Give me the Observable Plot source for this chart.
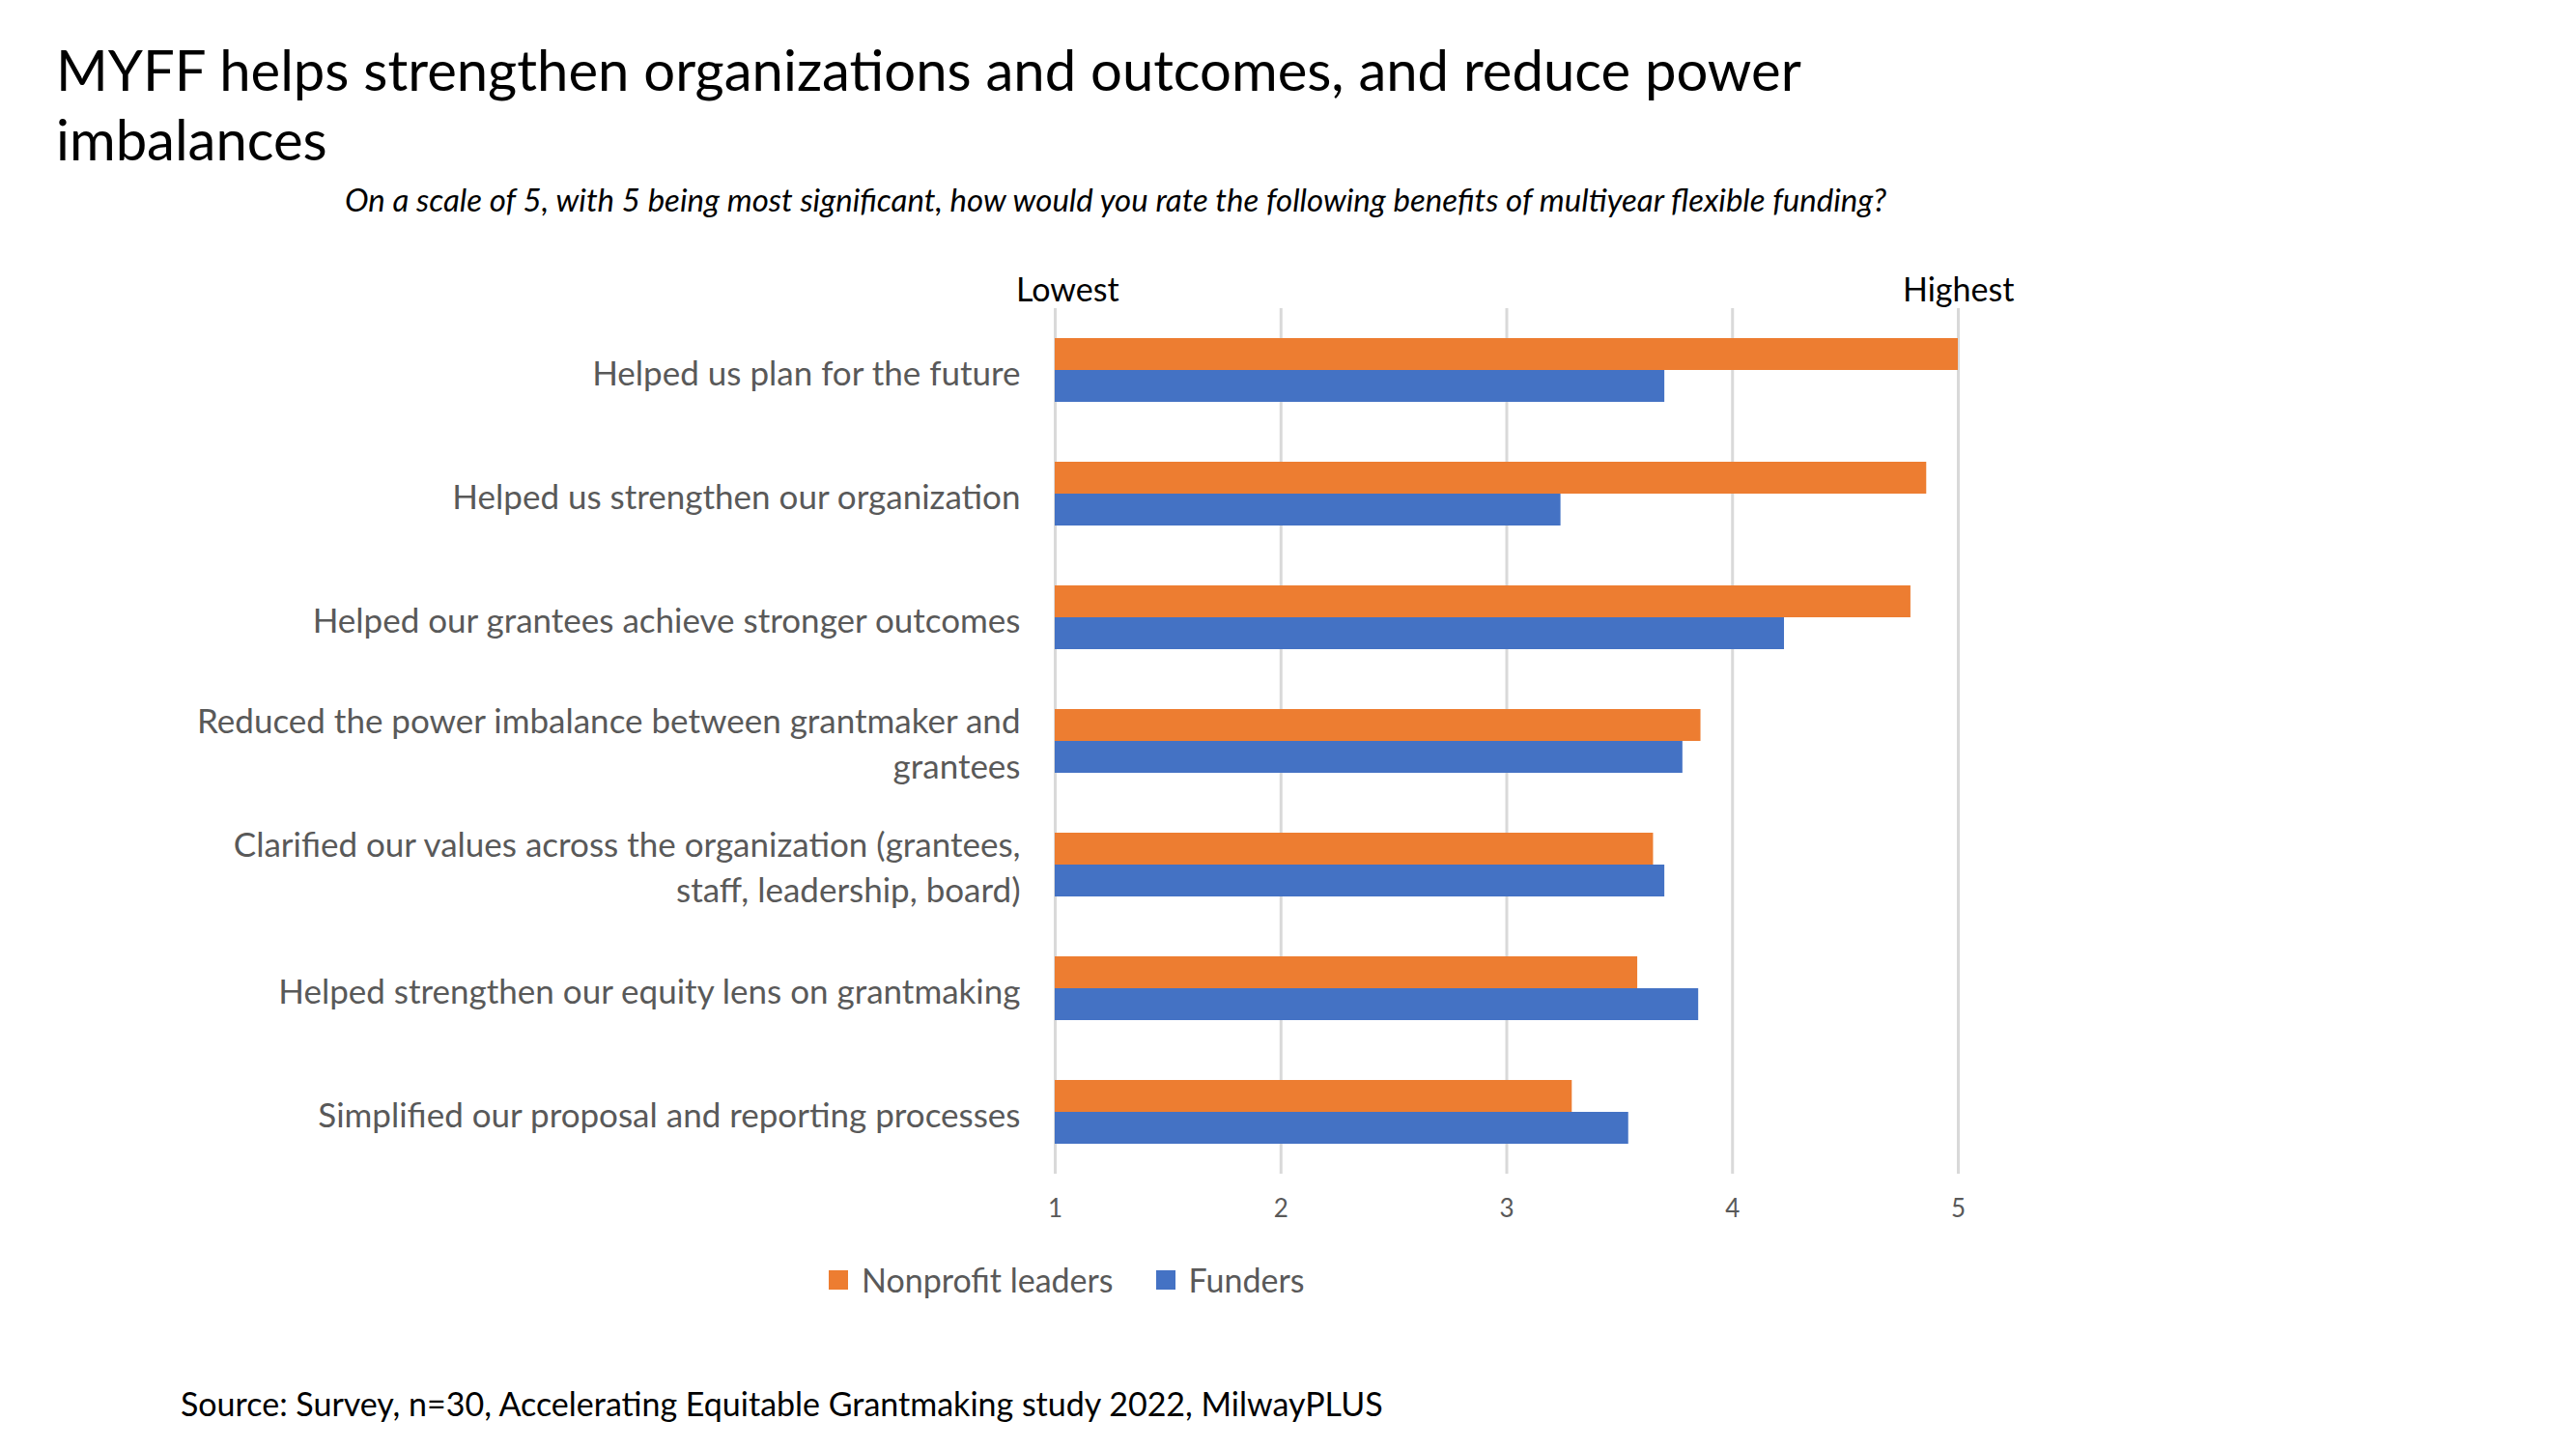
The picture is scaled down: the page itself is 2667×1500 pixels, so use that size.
<!DOCTYPE html>
<html><head><meta charset="utf-8">
<script src="https://cdn.jsdelivr.net/npm/d3@7"></script>
<script src="https://cdn.jsdelivr.net/npm/@observablehq/plot@0.6"></script>
<style>
body{margin:0;background:#fff;font-family:Lato,"Open Sans",sans-serif;}
#page{position:relative;width:2667px;height:1500px;overflow:hidden;}
.abs{position:absolute;white-space:nowrap;}
</style></head><body><div id="page">
<div class="abs" style="left:58px;top:36px;font-size:58px;line-height:72px;white-space:normal;width:2000px;color:#000">MYFF helps strengthen organizations and outcomes, and reduce power imbalances</div>
<div class="abs" style="left:0;width:2310px;text-align:center;top:186px;font-size:33px;font-style:italic;color:#000">On a scale of 5, with 5 being most significant, how would you rate the following benefits of multiyear flexible funding?</div>
<div class="abs" id="lo" style="left:1052px;top:278px;font-size:34px;color:#000">Lowest</div>
<div class="abs" id="hi" style="left:1970px;top:278px;font-size:34px;color:#000">Highest</div>
<div id="chart" class="abs" style="left:0;top:318px"></div>
<div class="abs" style="left:858px;top:1304px;font-size:34px;color:#595959;display:flex;align-items:center;gap:14px">
<span style="display:inline-block;width:20px;height:20px;background:#ED7D31"></span><span>Nonprofit leaders</span>
<span style="display:inline-block;width:20px;height:20px;background:#4472C4;margin-left:30px"></span><span>Funders</span></div>
<div class="abs" style="left:187px;top:1432px;font-size:34px;color:#000">Source: Survey, n=30, Accelerating Equitable Grantmaking study 2022, MilwayPLUS</div>
</div>
<script>
const categories = [
  "Helped us plan for the future",
  "Helped us strengthen our organization",
  "Helped our grantees achieve stronger outcomes",
  "Reduced the power imbalance between grantmaker and\ngrantees",
  "Clarified our values across the organization (grantees,\nstaff, leadership, board)",
  "Helped strengthen our equity lens on grantmaking",
  "Simplified our proposal and reporting processes"
];
const series = ["Nonprofit leaders", "Funders"];
const nonprofit = [5.0, 4.86, 4.79, 3.86, 3.65, 3.58, 3.29];
const funders = [3.70, 3.24, 4.23, 3.78, 3.70, 3.85, 3.54];
const ticks = [1, 2, 3, 4, 5];
const colors = ["#ED7D31", "#4472C4"];

const data = categories.flatMap((c, i) => [
  {cat: c, s: series[0], v: nonprofit[i]},
  {cat: c, s: series[1], v: funders[i]}
]);

const chart = Plot.plot({
  width: 2667, height: 960,
  marginLeft: 1092, marginRight: 640, marginTop: 0, marginBottom: 62,
  style: {fontFamily: "Lato, 'Open Sans', sans-serif", background: "white"},
  x: {domain: [1, 5], ticks, tickSize: 0, label: null},
  fy: {domain: categories, padding: 0, label: null},
  y: {domain: series, paddingInner: 0, paddingOuter: 0.92, axis: null},
  color: {domain: series, range: colors},
  marks: [
    Plot.ruleX(ticks, {stroke: "#d9d9d9", strokeWidth: 3}),
    Plot.barX(data, {x1: 1, x2: "v", y: "s", fy: "cat", fill: "s"}),
    Plot.axisX({ticks, tickFormat: "d", tickSize: 0, tickPadding: 26, fontSize: 26, fill: "#595959", label: null}),
    Plot.axisFy({anchor: "left", tickSize: 0, tickPadding: 36, fontSize: 35, fill: "#595959", label: null, lineHeight: 1.35})
  ]
});
document.getElementById("chart").appendChild(chart);
</script>
</body></html>
